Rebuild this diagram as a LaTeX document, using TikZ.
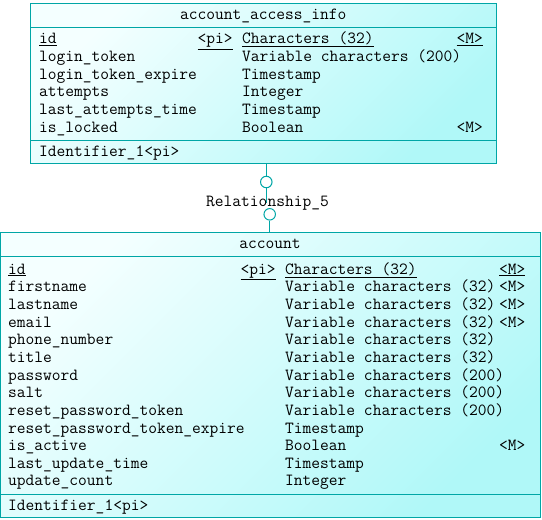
\documentclass[tikz,border=0pt]{standalone}
\usepackage{fontspec}
\definecolor{erline}{RGB}{0,166,166}
\definecolor{erlight}{RGB}{244,255,255}
\definecolor{erdark}{RGB}{176,248,248}
\tikzset{
  entity/.style={draw=erline, line width=1pt, top color=erlight, bottom color=erdark,
    shading angle=45, inner sep=0pt, outer sep=0pt},
  txt/.style={font=\ttfamily\fontsize{17}{20}\selectfont, inner sep=0pt, anchor=mid west},
  ctr/.style={txt, anchor=mid},
  sep/.style={draw=erline, line width=1pt},
  knob/.style={circle, draw=erline, line width=1pt, fill=white, minimum size=11.5pt, inner sep=0pt},
  link/.style={draw=erline, line width=1pt},
}
\begin{document}
\begin{tikzpicture}[x=1pt,y=-1pt]
\useasboundingbox (0,0) rectangle (542,520);

% ---------- entity account_access_info ----------
\node[entity, minimum width=466.5pt, minimum height=160.4pt] (aai) at (263.25,83.5) {};
\draw[sep] (aai.west |- 0,27.3) -- (aai.east |- 0,27.3);
\draw[sep] (aai.west |- 0,140.5) -- (aai.east |- 0,140.5);
\node[ctr] (aai-title) at (263.3,17) {account\_access\_info};

\node[txt] (aai-n1) at (39,41.5)  {\underline{id}};
\node[txt] (aai-p1) at (197.5,41.5) {\underline{<pi>}};
\node[txt] (aai-t1) at (242,41.5) {\underline{Characters (32)}};
\node[txt] (aai-m1) at (456.5,41.5) {\underline{<M>}};
\node[txt] (aai-n2) at (39,59.2)  {login\_token};
\node[txt] (aai-t2) at (242,59.2) {Variable characters (200)};
\node[txt] (aai-n3) at (39,76.9)  {login\_token\_expire};
\node[txt] (aai-t3) at (242,76.9) {Timestamp};
\node[txt] (aai-n4) at (39,94.6)  {attempts};
\node[txt] (aai-t4) at (242,94.6) {Integer};
\node[txt] (aai-n5) at (39,112.3) {last\_attempts\_time};
\node[txt] (aai-t5) at (242,112.3) {Timestamp};
\node[txt] (aai-n6) at (39,130)   {is\_locked};
\node[txt] (aai-t6) at (242,130)  {Boolean};
\node[txt] (aai-m6) at (456.5,130) {<M>};
\node[txt] (aai-id) at (39,154)   {Identifier\_1<pi>};

% ---------- entity account ----------
\node[entity, minimum width=539.5pt, minimum height=285.4pt] (acc) at (270.25,375) {};
\draw[sep] (acc.west |- 0,256) -- (acc.east |- 0,256);
\draw[sep] (acc.west |- 0,494.3) -- (acc.east |- 0,494.3);
\node[ctr] (acc-title) at (270,246) {account};

\node[txt] (acc-n1) at (8,272)    {\underline{id}};
\node[txt] (acc-p1) at (240.5,272) {\underline{<pi>}};
\node[txt] (acc-t1) at (285,272)  {\underline{Characters (32)}};
\node[txt] (acc-m1) at (499,272)  {\underline{<M>}};
\node[txt] (acc-n2) at (8,289.7)  {firstname};
\node[txt] (acc-t2) at (285,289.7) {Variable characters (32)};
\node[txt] (acc-m2) at (499,289.7) {<M>};
\node[txt] (acc-n3) at (8,307.3)  {lastname};
\node[txt] (acc-t3) at (285,307.3) {Variable characters (32)};
\node[txt] (acc-m3) at (499,307.3) {<M>};
\node[txt] (acc-n4) at (8,325)    {email};
\node[txt] (acc-t4) at (285,325)  {Variable characters (32)};
\node[txt] (acc-m4) at (499,325)  {<M>};
\node[txt] (acc-n5) at (8,342.6)  {phone\_number};
\node[txt] (acc-t5) at (285,342.6) {Variable characters (32)};
\node[txt] (acc-n6) at (8,360.3)  {title};
\node[txt] (acc-t6) at (285,360.3) {Variable characters (32)};
\node[txt] (acc-n7) at (8,377.9)  {password};
\node[txt] (acc-t7) at (285,377.9) {Variable characters (200)};
\node[txt] (acc-n8) at (8,395.6)  {salt};
\node[txt] (acc-t8) at (285,395.6) {Variable characters (200)};
\node[txt] (acc-n9) at (8,413.2)  {reset\_password\_token};
\node[txt] (acc-t9) at (285,413.2) {Variable characters (200)};
\node[txt] (acc-n10) at (8,430.9) {reset\_password\_token\_expire};
\node[txt] (acc-t10) at (285,430.9) {Timestamp};
\node[txt] (acc-n11) at (8,448.5) {is\_active};
\node[txt] (acc-t11) at (285,448.5) {Boolean};
\node[txt] (acc-m11) at (499,448.5) {<M>};
\node[txt] (acc-n12) at (8,466.2) {last\_update\_time};
\node[txt] (acc-t12) at (285,466.2) {Timestamp};
\node[txt] (acc-n13) at (8,483.8) {update\_count};
\node[txt] (acc-t13) at (285,483.8) {Integer};
\node[txt] (acc-id) at (8,508)    {Identifier\_1<pi>};

% ---------- relationship ----------
\node[knob] (c1) at (266.3,182) {};
\node[knob] (c2) at (269.7,214.3) {};
\coordinate (relmid) at (266.3,203);
\draw[link] (c1.north) -- (c1.north |- aai.south);
\draw[link] (c1.south) -- (relmid);
\draw[link] (c2.south) -- (c2.south |- acc.north);
\node[ctr] (rel) at (267.5,204) {Relationship\_5};
\end{tikzpicture}
\end{document}
